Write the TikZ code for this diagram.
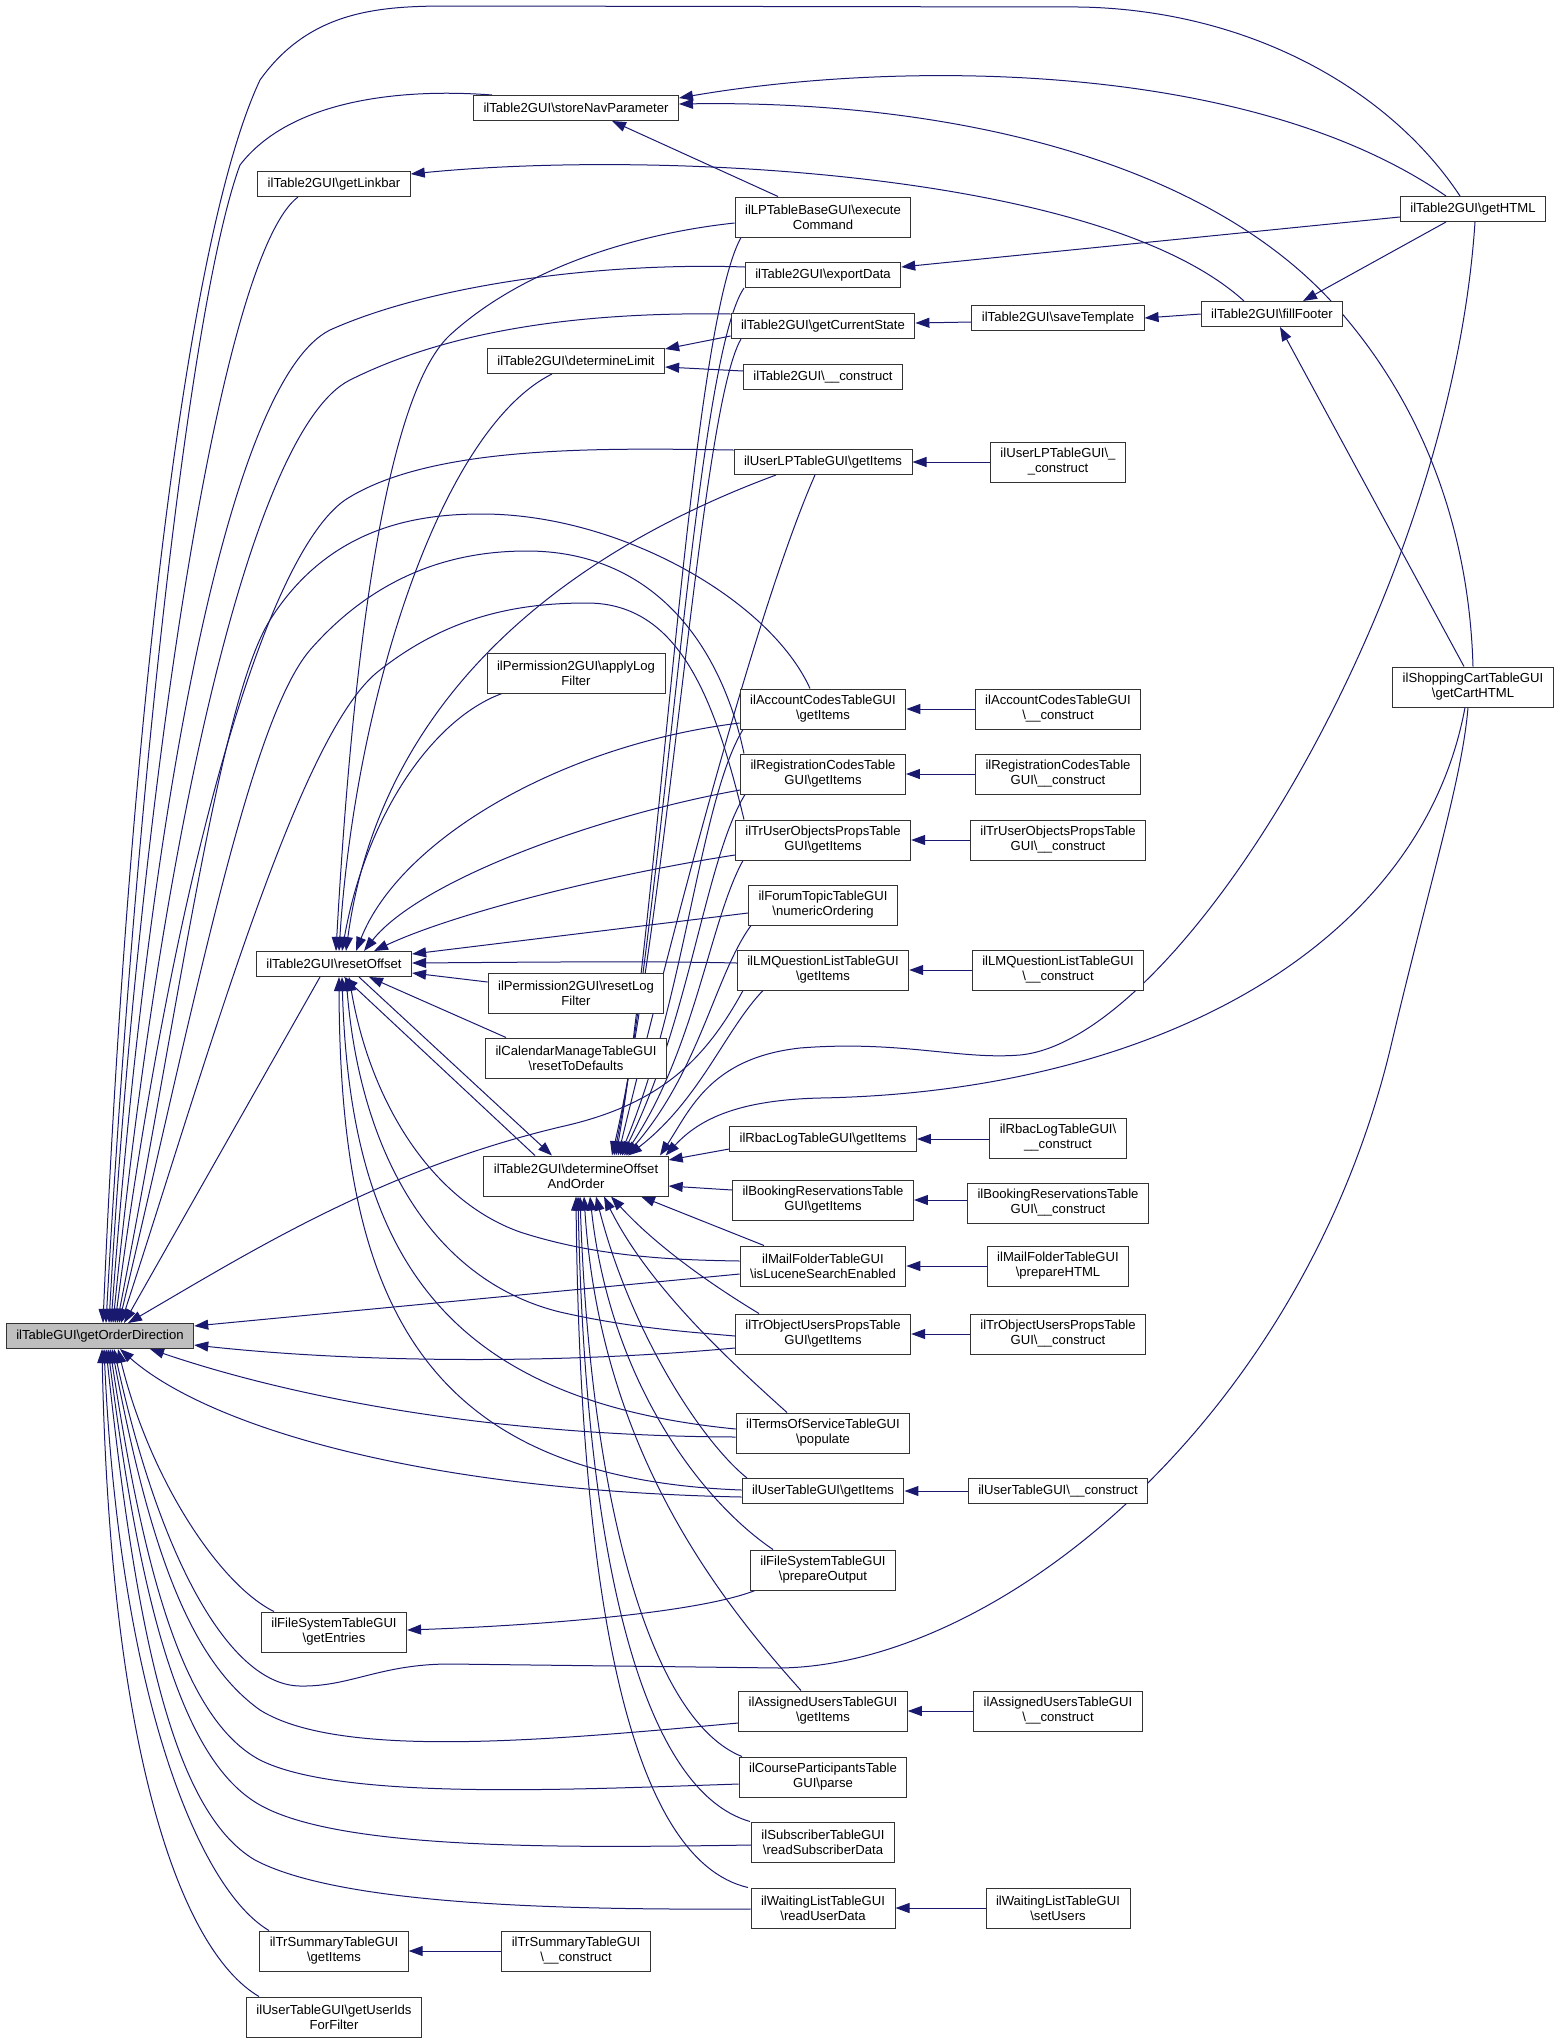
\documentclass[tikz,border=0pt]{standalone}
\usepackage{fontspec}
\setmainfont{Liberation Sans}
\usetikzlibrary{arrows.meta}
\definecolor{edgeblue}{HTML}{191970}
\definecolor{rootgray}{HTML}{BFBFBF}
\newcommand{\bsl}{\textbackslash}
\pgfdeclarelayer{edges}
\pgfsetlayers{edges,main}
\tikzset{
  fn/.style={draw=black!80, line width=1pt, fill=white, inner xsep=10pt, inner ysep=0pt,
    minimum height=25pt, align=center, font=\fontsize{13.1}{15}\selectfont},
  fn2/.style={fn, minimum height=40pt},
  call/.style={draw=edgeblue, line width=1pt, {Triangle[length=14pt,width=10pt]}-}
}
\begin{document}
\begin{tikzpicture}[x=1pt,y=1pt]
\useasboundingbox (0,0) rectangle (1560,-2043);
\node[fn, fill=rootgray] (root) at (100,-1336) {ilTableGUI\bsl getOrderDirection};
\node[fn] (getLinkbar) at (334,-184) {ilTable2GUI\bsl getLinkbar};
\node[fn] (RO) at (334,-964) {ilTable2GUI\bsl resetOffset};
\node[fn2] (getEntries) at (334,-1632) {ilFileSystemTableGUI\\\bsl getEntries};
\node[fn2] (trSumItems) at (334,-1951) {ilTrSummaryTableGUI\\\bsl getItems};
\node[fn2] (userIds) at (334,-2017) {ilUserTableGUI\bsl getUserIds\\ForFilter};
\node[fn] (storeNav) at (576,-108) {ilTable2GUI\bsl storeNavParameter};
\node[fn] (determineLimit) at (576,-361) {ilTable2GUI\bsl determineLimit};
\node[fn2] (applyLog) at (576,-673) {ilPermission2GUI\bsl applyLog\\Filter};
\node[fn2] (resetLog) at (576,-993) {ilPermission2GUI\bsl resetLog\\Filter};
\node[fn2] (calendar) at (576,-1058) {ilCalendarManageTableGUI\\\bsl resetToDefaults};
\node[fn2] (DOO) at (576,-1176) {ilTable2GUI\bsl determineOffset\\AndOrder};
\node[fn2] (trSumCon) at (576,-1951) {ilTrSummaryTableGUI\\\bsl\_\_construct};
\node[fn2] (execCmd) at (823,-217) {ilLPTableBaseGUI\bsl execute\\Command};
\node[fn] (exportData) at (823,-275) {ilTable2GUI\bsl exportData};
\node[fn] (curState) at (823,-326) {ilTable2GUI\bsl getCurrentState};
\node[fn] (t2con) at (823,-377) {ilTable2GUI\bsl\_\_construct};
\node[fn] (userLP) at (823,-462) {ilUserLPTableGUI\bsl getItems};
\node[fn2] (acct) at (823,-709) {ilAccountCodesTableGUI\\\bsl getItems};
\node[fn2] (reg) at (823,-774) {ilRegistrationCodesTable\\GUI\bsl getItems};
\node[fn2] (trUO) at (823,-840) {ilTrUserObjectsPropsTable\\GUI\bsl getItems};
\node[fn2] (forum) at (823,-905) {ilForumTopicTableGUI\\\bsl numericOrdering};
\node[fn2] (lmq) at (823,-970) {ilLMQuestionListTableGUI\\\bsl getItems};
\node[fn] (rbac) at (823,-1139) {ilRbacLogTableGUI\bsl getItems};
\node[fn2] (booking) at (823,-1200) {ilBookingReservationsTable\\GUI\bsl getItems};
\node[fn2] (mail) at (823,-1266) {ilMailFolderTableGUI\\\bsl isLuceneSearchEnabled};
\node[fn2] (trOU) at (823,-1334) {ilTrObjectUsersPropsTable\\GUI\bsl getItems};
\node[fn2] (terms) at (823,-1433) {ilTermsOfServiceTableGUI\\\bsl populate};
\node[fn] (userItems) at (823,-1491) {ilUserTableGUI\bsl getItems};
\node[fn2] (fsPrep) at (823,-1570) {ilFileSystemTableGUI\\\bsl prepareOutput};
\node[fn2] (assigned) at (823,-1711) {ilAssignedUsersTableGUI\\\bsl getItems};
\node[fn2] (course) at (823,-1777) {ilCourseParticipantsTable\\GUI\bsl parse};
\node[fn2] (subscr) at (823,-1842) {ilSubscriberTableGUI\\\bsl readSubscriberData};
\node[fn2] (waiting) at (823,-1908) {ilWaitingListTableGUI\\\bsl readUserData};
\node[fn] (saveTemplate) at (1058,-318) {ilTable2GUI\bsl saveTemplate};
\node[fn2] (userLPcon) at (1058,-462) {ilUserLPTableGUI\bsl\_\\\_construct};
\node[fn2] (acctCon) at (1058,-709) {ilAccountCodesTableGUI\\\bsl\_\_construct};
\node[fn2] (regCon) at (1058,-774) {ilRegistrationCodesTable\\GUI\bsl\_\_construct};
\node[fn2] (trUOCon) at (1058,-840) {ilTrUserObjectsPropsTable\\GUI\bsl\_\_construct};
\node[fn2] (lmqCon) at (1058,-970) {ilLMQuestionListTableGUI\\\bsl\_\_construct};
\node[fn2] (rbacCon) at (1058,-1138) {ilRbacLogTableGUI\bsl\\\_\_construct};
\node[fn2] (bookingCon) at (1058,-1203) {ilBookingReservationsTable\\GUI\bsl\_\_construct};
\node[fn2] (mailCon) at (1058,-1266) {ilMailFolderTableGUI\\\bsl prepareHTML};
\node[fn2] (trOUCon) at (1058,-1334) {ilTrObjectUsersPropsTable\\GUI\bsl\_\_construct};
\node[fn] (userCon) at (1058,-1491) {ilUserTableGUI\bsl\_\_construct};
\node[fn2] (assignedCon) at (1058,-1711) {ilAssignedUsersTableGUI\\\bsl\_\_construct};
\node[fn2] (waitingCon) at (1058,-1908) {ilWaitingListTableGUI\\\bsl setUsers};
\node[fn] (fillFooter) at (1272,-314) {ilTable2GUI\bsl fillFooter};
\node[fn] (getHTML) at (1473,-209) {ilTable2GUI\bsl getHTML};
\node[fn2] (shop) at (1473,-687) {ilShoppingCartTableGUI\\\bsl getCartHTML};
\begin{pgfonlayer}{edges}
\draw[call] ([xshift=3pt]root.north) .. controls (125,-800) and (180,-250) .. (260,-80) .. controls (310,-10) and (380,-6) .. (450,-6) -- (1080,-7) .. controls (1250,-10) and (1390,-90) .. ([xshift=-13pt]getHTML.north);
\draw[call] ([xshift=6pt]root.north) .. controls (135,-800) and (190,-300) .. (240,-165) .. controls (290,-100) and (400,-88) .. ([xshift=-84pt]storeNav.north);
\draw[call] ([xshift=9pt]root.north) .. controls (135,-850) and (215,-260) .. ([xshift=-36pt]getLinkbar.south);
\draw[call] ([xshift=11pt]root.north) .. controls (150,-800) and (230,-380) .. (330,-330) .. controls (430,-285) and (600,-262) .. ([yshift=8pt]exportData.west);
\draw[call] ([xshift=13pt]root.north) .. controls (160,-850) and (250,-430) .. (350,-380) .. controls (460,-325) and (600,-312) .. ([yshift=12pt]curState.west);
\draw[call] ([xshift=15pt]root.north) .. controls (170,-900) and (260,-560) .. (345,-500) .. controls (430,-445) and (600,-448) .. ([yshift=12pt]userLP.west);
\draw[call] ([xshift=17pt]root.north) .. controls (180,-1000) and (220,-700) .. (270,-620) .. controls (330,-525) and (420,-514) .. (482,-514) .. controls (620,-514) and (770,-600) .. ([xshift=-13pt]acct.north);
\draw[call] ([xshift=19pt]root.north) .. controls (195,-1000) and (250,-720) .. (310,-650) .. controls (380,-570) and (460,-551) .. (527,-551) .. controls (650,-551) and (720,-640) .. ([xshift=-79pt]reg.north);
\draw[call] ([xshift=21pt]root.north) .. controls (210,-1050) and (300,-730) .. (380,-670) .. controls (450,-615) and (520,-603) .. (587,-603) .. controls (680,-603) and (715,-700) .. ([xshift=-79pt]trUO.north);
\draw[call] ([xshift=24pt]root.north) -- ([xshift=-14pt]RO.south);
\draw[call] ([xshift=28pt]root.north) .. controls (250,-1252) and (380,-1170) .. (560,-1127) .. controls (660,-1105) and (705,-1060) .. ([xshift=-80pt]lmq.south);
\draw[call] ([yshift=10pt]root.east) -- ([yshift=-8pt]mail.west);
\draw[call] ([yshift=-9pt]root.east) .. controls (350,-1362) and (550,-1365) .. ([yshift=-14pt]trOU.west);
\draw[call] ([xshift=50pt]root.south) .. controls (300,-1400) and (500,-1436) .. ([yshift=-4pt]terms.west);
\draw[call] ([xshift=20pt]root.south) .. controls (200,-1420) and (400,-1490) .. ([yshift=-6pt]userItems.west);
\draw[call] ([xshift=18pt]root.south) .. controls (150,-1480) and (220,-1585) .. ([xshift=-60pt]getEntries.north);
\draw[call] ([xshift=14pt]root.south) .. controls (160,-1560) and (230,-1685) .. (300,-1686) .. controls (350,-1687) and (380,-1664) .. (450,-1664) -- (780,-1668) .. controls (1000,-1665) and (1300,-1420) .. (1390,-1050) .. controls (1430,-880) and (1462,-780) .. ([xshift=-5pt]shop.south);
\draw[call] ([xshift=12pt]root.south) .. controls (150,-1550) and (190,-1660) .. (260,-1710) .. controls (340,-1760) and (550,-1740) .. ([yshift=-12pt]assigned.west);
\draw[call] ([xshift=10pt]root.south) .. controls (145,-1580) and (185,-1720) .. (260,-1760) .. controls (340,-1800) and (560,-1790) .. ([yshift=-7pt]course.west);
\draw[call] ([xshift=8pt]root.south) .. controls (140,-1600) and (180,-1760) .. (260,-1805) .. controls (340,-1850) and (560,-1848) .. ([yshift=-3pt]subscr.west);
\draw[call] ([xshift=6pt]root.south) .. controls (135,-1620) and (170,-1810) .. (255,-1860) .. controls (340,-1905) and (560,-1910) .. ([yshift=-1pt]waiting.west);
\draw[call] ([xshift=4pt]root.south) .. controls (120,-1700) and (200,-1890) .. ([xshift=-65pt]trSumItems.north);
\draw[call] ([xshift=2pt]root.south) .. controls (110,-1750) and (180,-1950) .. ([xshift=-75pt]userIds.north);
\draw[call] ([xshift=2pt]RO.north) .. controls (350,-700) and (380,-400) .. (450,-335) .. controls (530,-262) and (650,-232) .. ([yshift=-6pt]execCmd.west);
\draw[call] ([xshift=5pt]RO.north) .. controls (355,-700) and (440,-430) .. ([xshift=-24pt]determineLimit.south);
\draw[call] ([xshift=8pt]RO.north) .. controls (365,-820) and (430,-720) .. ([xshift=-74pt]applyLog.south);
\draw[call] ([xshift=12pt]RO.north) .. controls (380,-700) and (560,-555) .. ([xshift=-47pt]userLP.south);
\draw[call] ([xshift=22pt]RO.north) .. controls (400,-840) and (560,-745) .. ([yshift=-14pt]acct.west);
\draw[call] ([xshift=30pt]RO.north) .. controls (420,-880) and (600,-815) .. ([yshift=-16pt]reg.west);
\draw[call] ([xshift=40pt]RO.north) .. controls (450,-915) and (600,-876) .. ([yshift=-15pt]trUO.west);
\draw[call] ([yshift=10pt]RO.east) -- ([yshift=-8pt]forum.west);
\draw[call] ([yshift=1pt]RO.east) .. controls (550,-962) and (650,-961) .. ([yshift=7pt]lmq.west);
\draw[call] ([yshift=-9pt]RO.east) -- ([yshift=11pt]resetLog.west);
\draw[call] ([xshift=35pt]RO.south) -- ([xshift=-70pt]calendar.north);
\draw[call] ([xshift=10pt]RO.south) -- ([xshift=-41pt]DOO.north);
\draw[call] ([xshift=-24pt]DOO.north) -- ([xshift=25pt]RO.south);
\draw[call] ([xshift=15pt]RO.south) .. controls (370,-1100) and (430,-1200) .. (520,-1232) .. controls (600,-1258) and (680,-1260) .. ([yshift=5pt]mail.west);
\draw[call] ([xshift=12pt]RO.south) .. controls (360,-1150) and (430,-1280) .. (560,-1312) .. controls (630,-1328) and (690,-1332) .. ([yshift=-2pt]trOU.west);
\draw[call] ([xshift=8pt]RO.south) .. controls (350,-1250) and (440,-1400) .. ([yshift=4pt]terms.west);
\draw[call] ([xshift=5pt]RO.south) .. controls (340,-1300) and (420,-1478) .. ([yshift=1pt]userItems.west);
\draw[call] ([xshift=40pt]DOO.north) .. controls (660,-900) and (690,-330) .. ([xshift=-82pt]execCmd.south);
\draw[call] ([xshift=38pt]DOO.north) .. controls (665,-900) and (695,-360) .. ([xshift=-79pt]exportData.south);
\draw[call] ([xshift=36pt]DOO.north) .. controls (670,-900) and (700,-410) .. ([xshift=-82pt]curState.south);
\draw[call] ([xshift=42pt]DOO.north) .. controls (680,-900) and (760,-600) .. ([xshift=-8pt]userLP.south);
\draw[call] ([xshift=44pt]DOO.north) .. controls (685,-1000) and (700,-800) .. ([xshift=-80pt]acct.south);
\draw[call] ([xshift=46pt]DOO.north) .. controls (690,-1020) and (705,-860) .. ([xshift=-78pt]reg.south);
\draw[call] ([xshift=48pt]DOO.north) .. controls (695,-1050) and (710,-920) .. ([xshift=-80pt]trUO.south);
\draw[call] ([xshift=50pt]DOO.north) .. controls (700,-1070) and (715,-975) .. ([xshift=-72pt]forum.south);
\draw[call] ([xshift=52pt]DOO.north) .. controls (700,-1100) and (725,-1030) .. ([xshift=-60pt]lmq.south);
\draw[call] ([xshift=84pt]DOO.north) .. controls (690,-1110) and (710,-1058) .. (800,-1048) .. controls (900,-1040) and (960,-1060) .. (1020,-1055) .. controls (1180,-1040) and (1450,-600) .. ([xshift=2pt]getHTML.south);
\draw[call] ([xshift=-3pt]DOO.north east) .. controls (700,-1118) and (740,-1100) .. (820,-1098) .. controls (1150,-1092) and (1420,-950) .. ([xshift=-8pt]shop.south);
\draw[call] ([yshift=16pt]DOO.east) -- ([yshift=-10pt]rbac.west);
\draw[call] ([yshift=-10pt]DOO.east) -- ([yshift=10pt]booking.west);
\draw[call] ([xshift=65pt]DOO.south) -- ([xshift=-59pt]mail.north);
\draw[call] ([xshift=35pt]DOO.south) .. controls (660,-1250) and (720,-1290) .. ([xshift=-64pt]trOU.north);
\draw[call] ([xshift=28pt]DOO.south) .. controls (650,-1290) and (740,-1370) .. ([xshift=-36pt]terms.north);
\draw[call] ([xshift=20pt]DOO.south) .. controls (630,-1330) and (700,-1440) .. ([xshift=-76pt]userItems.north);
\draw[call] ([xshift=14pt]DOO.south) .. controls (610,-1380) and (700,-1500) .. ([xshift=-50pt]fsPrep.north);
\draw[call] ([xshift=8pt]DOO.south) .. controls (600,-1450) and (720,-1600) .. ([xshift=-22pt]assigned.north);
\draw[call] ([xshift=4pt]DOO.south) .. controls (590,-1500) and (650,-1720) .. ([xshift=-81pt]course.north);
\draw[call] ([xshift=2pt]DOO.south) .. controls (585,-1550) and (640,-1790) .. ([xshift=-73pt]subscr.north);
\draw[call] (DOO.south) .. controls (580,-1600) and (630,-1860) .. ([xshift=-75pt]waiting.north);
\draw[call] ([xshift=36pt]storeNav.south) -- ([xshift=-45pt]execCmd.north);
\draw[call] ([yshift=10pt]storeNav.east) .. controls (900,-60) and (1250,-60) .. ([xshift=-27pt]getHTML.north);
\draw[call] ([yshift=4pt]storeNav.east) .. controls (950,-100) and (1200,-160) .. (1330,-300) .. controls (1440,-420) and (1470,-560) .. (shop.north);
\draw[call] ([yshift=8pt]exportData.east) -- ([yshift=-8pt]getHTML.west);
\draw[call] ([xshift=31pt]fillFooter.north) -- ([xshift=-27pt]getHTML.south);
\draw[call] ([xshift=8pt]fillFooter.south) -- ([xshift=-9pt]shop.north);
\draw[call] ([yshift=10pt]getLinkbar.east) .. controls (650,-150) and (1100,-170) .. ([xshift=-28pt]fillFooter.north);
\draw[call] (saveTemplate.east) -- (fillFooter.west);
\draw[call] ([yshift=3pt]curState.east) -- ([yshift=-4pt]saveTemplate.west);
\draw[call] ([yshift=12pt]determineLimit.east) -- ([yshift=-10pt]curState.west);
\draw[call] ([yshift=-6pt]determineLimit.east) -- ([yshift=6pt]t2con.west);
\draw[call] ([yshift=2pt]getEntries.east) .. controls (550,-1625) and (700,-1612) .. ([xshift=-68pt]fsPrep.south);
\foreach \a/\b in {userLP/userLPcon, acct/acctCon, reg/regCon, trUO/trUOCon, lmq/lmqCon,
    rbac/rbacCon, booking/bookingCon, mail/mailCon, trOU/trOUCon, userItems/userCon,
    assigned/assignedCon, waiting/waitingCon, trSumItems/trSumCon}
  \draw[call] (\a.east) -- (\a.east -| \b.west);
\end{pgfonlayer}
\end{tikzpicture}
\end{document}
